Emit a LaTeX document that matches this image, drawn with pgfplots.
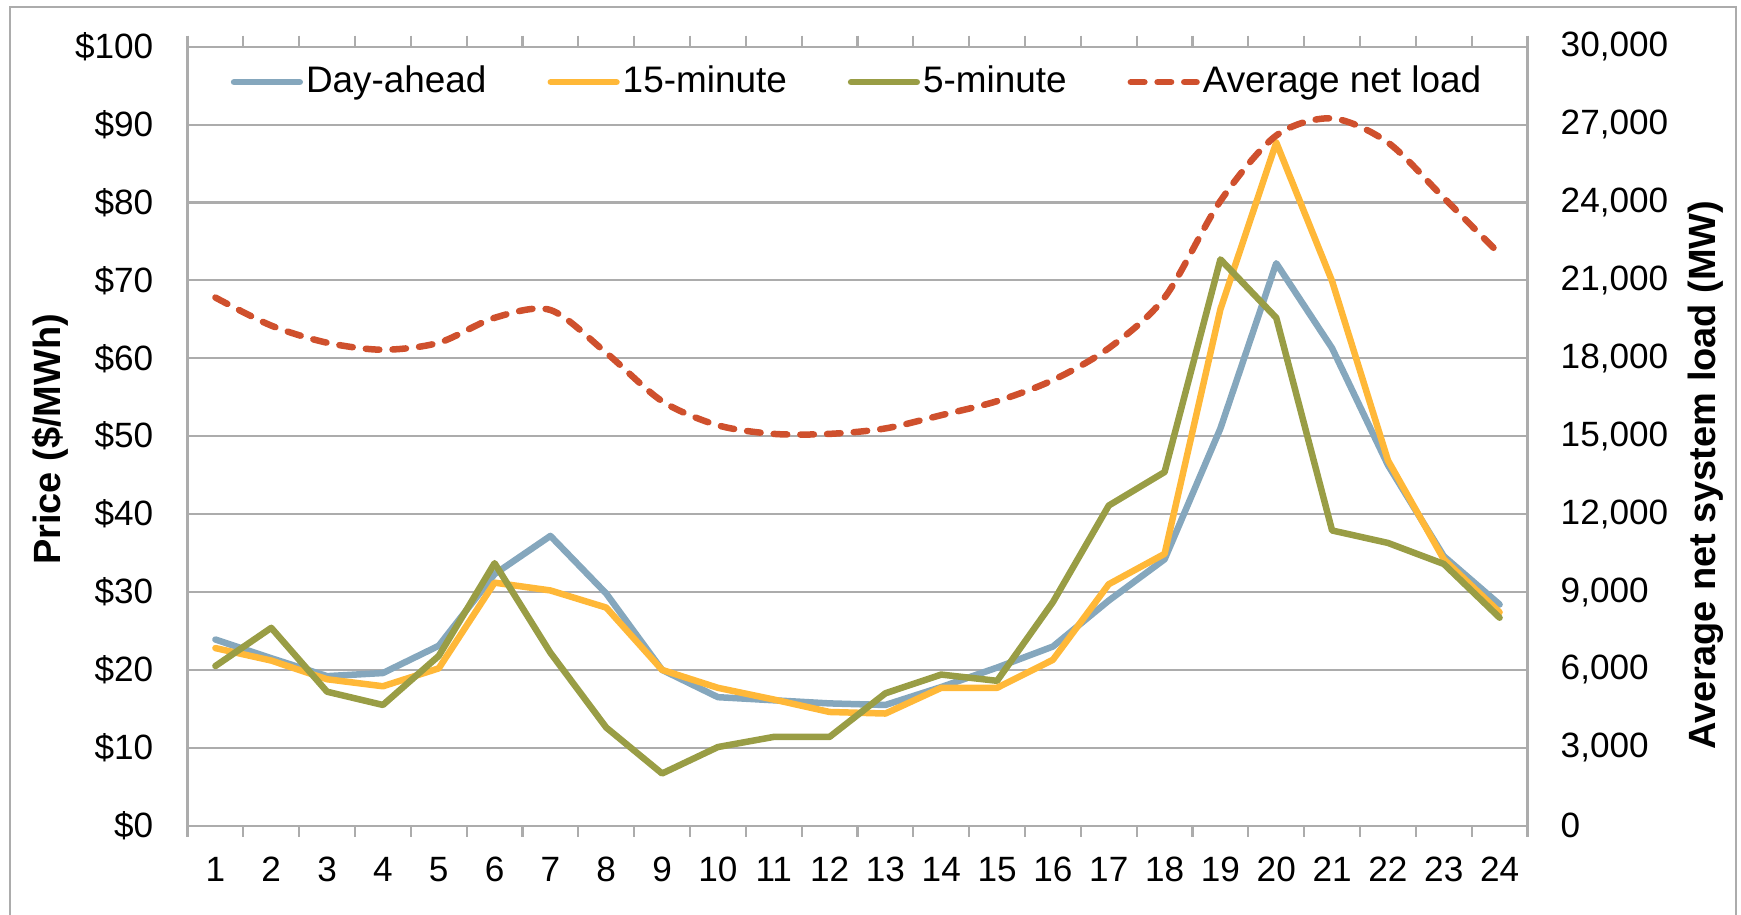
\documentclass[border=0pt]{standalone}
\usepackage{fontspec}
\setmainfont{Liberation Sans}
\usepackage{pgfplots}
\pgfplotsset{compat=1.18}

\definecolor{dayahead}{RGB}{133,167,189}
\definecolor{fifteen}{RGB}{255,184,56}
\definecolor{five}{RGB}{153,157,69}
\definecolor{netload}{RGB}{207,80,45}
\definecolor{gridgray}{RGB}{172,172,172}

\pgfplotsset{
  common/.style={
    at={(0,0)}, anchor=south west,
    scale only axis, width=134mm, height=77.9mm,
    xmin=0.5, xmax=24.5,
    /pgf/number format/assume math mode=true,
    ticklabel style={font=\fontsize{10}{12}\selectfont},
    axis line style={gridgray, line width=0.6pt},
    label style={font=\bfseries\fontsize{10.8}{13}\selectfont},
  },
  series/.style={line width=1.85pt, line join=round, line cap=round},
  loaddash/.style={dash pattern=on 1.35mm off 1.32mm},
}

\begin{document}
\begin{tikzpicture}
\path[use as bounding box] (-18.75mm,-8.83mm) rectangle (155.35mm,82.57mm);
\draw[gridgray, line width=0.5pt] (-17.75mm,-9mm) -- (-17.75mm,81.87mm) -- (154.85mm,81.87mm) -- (154.85mm,-9mm);

\begin{axis}[
  common,
  ymin=0, ymax=100,
  xtick={1,...,24},
  major tick length=0pt,
  minor xtick={0.5,1.5,...,24.5},
  minor tick length=1.1mm,
  tick align=outside,
  minor tick style={gridgray, line width=0.6pt},
  xticklabel style={anchor=center, yshift=-4.4mm, inner sep=0pt},
  ytick={0,10,...,100},
  yticklabel={\$\pgfmathprintnumber{\tick}},
  yticklabel style={anchor=east, inner sep=0pt, xshift=-3.35mm},
  ymajorgrids,
  grid style={gridgray, line width=0.6pt},
  ylabel={Price (\$/MWh)},
  ylabel style={at={(axis description cs:-0.1022,0.496)}, anchor=center, rotate=0},
  legend columns=4,
  legend style={at={(0.5,0.9545)}, anchor=center, draw=none, fill=none,
    inner sep=0pt, font=\fontsize{10.5}{12}\selectfont,
    nodes={inner sep=0.3mm},
    /tikz/every even column/.append style={column sep=5.8mm}},
  legend image code/.code={\draw[#1] (0.33mm,0mm) -- (6.9mm,0mm);},
]
\addplot[series, dayahead] coordinates {
(1,23.9) (2,21.5) (3,19.2) (4,19.6) (5,23.1) (6,32.3) (7,37.2) (8,29.8)
(9,20.0) (10,16.5) (11,16.1) (12,15.7) (13,15.5) (14,17.8) (15,20.3) (16,23.0)
(17,28.9) (18,34.2) (19,51.0) (20,72.2) (21,61.3) (22,46.3) (23,34.6) (24,28.4)
};
\addlegendentry{Day-ahead}
\addplot[series, fifteen] coordinates {
(1,22.8) (2,21.2) (3,18.8) (4,17.9) (5,20.2) (6,31.2) (7,30.2) (8,28.0)
(9,20.0) (10,17.7) (11,16.2) (12,14.6) (13,14.4) (14,17.7) (15,17.7) (16,21.3)
(17,31.0) (18,34.9) (19,66.3) (20,87.7) (21,69.9) (22,46.9) (23,34.2) (24,27.4)
};
\addlegendentry{15-minute}
\addplot[series, five] coordinates {
(1,20.5) (2,25.4) (3,17.2) (4,15.5) (5,21.8) (6,33.7) (7,22.2) (8,12.6)
(9,6.7) (10,10.1) (11,11.4) (12,11.4) (13,17.0) (14,19.4) (15,18.6) (16,28.7)
(17,41.1) (18,45.4) (19,72.7) (20,65.2) (21,37.9) (22,36.3) (23,33.6) (24,26.7)
};
\addlegendentry{5-minute}
\addlegendimage{series, netload, loaddash}
\addlegendentry{Average net load}
\end{axis}

\begin{axis}[
  common,
  ymin=0, ymax=30000,
  axis x line=none,
  axis y line*=right,
  ytick={0,3000,...,30000},
  major tick length=0pt,
  scaled y ticks=false,
  /pgf/number format/1000 sep={,},
  yticklabel style={anchor=west, inner sep=0pt, xshift=3.25mm},
  ylabel={Average net system load (MW)},
  ylabel style={at={(axis description cs:1.1328,0.45)}, anchor=center, rotate=0},
]
\addplot[series, netload, smooth, loaddash] coordinates {
(1,20340) (2,19260) (3,18600) (4,18330) (5,18600) (6,19560) (7,19860) (8,18210)
(9,16350) (10,15420) (11,15090) (12,15090) (13,15300) (14,15810) (15,16350) (16,17160)
(17,18390) (18,20340) (19,24060) (20,26580) (21,27240) (22,26310) (23,24180) (24,22020)
};
\end{axis}
\end{tikzpicture}
\end{document}
